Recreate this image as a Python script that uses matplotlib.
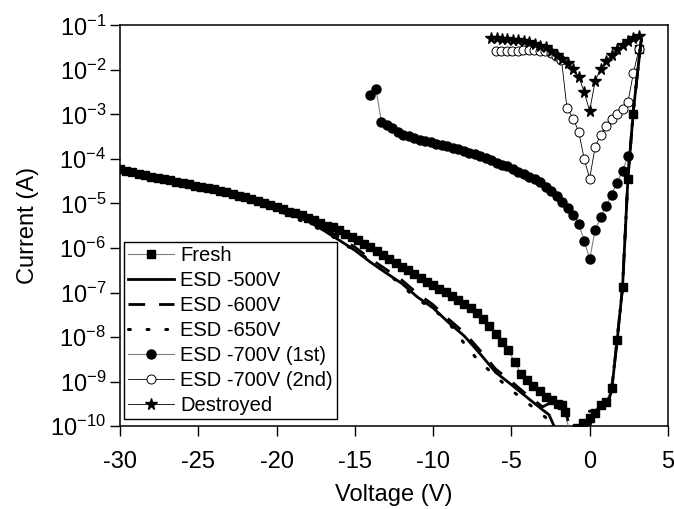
#!/usr/bin/env python3

import matplotlib
matplotlib.use("Agg")
import matplotlib.pyplot as plt
from matplotlib.ticker import LogLocator, LogFormatterSciNotation, NullLocator

plt.rcParams["font.family"] = ["Liberation Sans", "DejaVu Sans"]
plt.rcParams["axes.unicode_minus"] = False
plt.rcParams["mathtext.default"] = "regular"

# ---- data (voltage in V, current in A) ----
fresh_v = [-30.0, -29.6, -29.2, -28.8, -28.4, -28.0, -27.6, -27.2, -26.8, -26.4,
           -26.0, -25.6, -25.2, -24.8, -24.4, -24.0, -23.6, -23.2, -22.8, -22.4,
           -22.0, -21.6, -21.2, -20.8, -20.4, -20.0, -19.6, -19.2, -18.8, -18.4,
           -18.0, -17.6, -17.2, -16.8, -16.4, -16.0, -15.6, -15.2, -14.8, -14.4,
           -14.0, -13.6, -13.2, -12.8, -12.4, -12.0, -11.6, -11.2, -10.8, -10.4,
           -10.0, -9.6, -9.2, -8.8, -8.4, -8.0, -7.6, -7.2, -6.8, -6.4,
           -6.0, -5.6, -5.2, -4.8, -4.4, -4.0, -3.6, -3.2, -2.8, -2.4,
           -2.0, -1.75, -1.6, -1.2, -0.8, -0.4, 0.0, 0.35, 0.7, 1.05,
           1.4, 1.75, 2.1, 2.45, 2.8, 3.15]
fresh_i = [6.0e-5, 5.5e-5, 5.1e-5, 4.7e-5, 4.4e-5, 4.0e-5, 3.7e-5, 3.5e-5, 3.3e-5, 3.1e-5,
           2.9e-5, 2.7e-5, 2.5e-5, 2.4e-5, 2.2e-5, 2.1e-5, 1.9e-5, 1.8e-5, 1.6e-5, 1.5e-5,
           1.4e-5, 1.26e-5, 1.12e-5, 1.02e-5, 9.1e-6, 8.3e-6, 7.4e-6, 6.6e-6, 6.0e-6, 5.4e-6,
           4.8e-6, 4.2e-6, 3.7e-6, 3.2e-6, 2.9e-6, 2.5e-6, 2.1e-6, 1.8e-6, 1.5e-6, 1.26e-6,
           1.05e-6, 8.5e-7, 6.9e-7, 5.8e-7, 4.7e-7, 3.8e-7, 3.2e-7, 2.6e-7, 2.1e-7, 1.74e-7,
           1.45e-7, 1.2e-7, 1.02e-7, 8.5e-8, 6.9e-8, 5.6e-8, 4.4e-8, 3.4e-8, 2.5e-8, 1.8e-8,
           1.17e-8, 7.8e-9, 5.0e-9, 2.8e-9, 1.5e-9, 1.07e-9, 7.8e-10, 6.0e-10, 4.6e-10, 3.8e-10,
           3.2e-10, 2.9e-10, 2.1e-10, 6e-11, 9e-11, 1.2e-10, 1.5e-10, 2.0e-10, 2.9e-10, 3.5e-10,
           7e-10, 8.5e-9, 1.3e-7, 3.5e-5, 1.0e-3, 3.0e-2]

esd500_v = [-30, -28, -26, -24, -22, -20, -18, -17, -16, -15, -14, -13, -12, -11, -10,
            -9, -8, -7, -6, -5, -4, -3, -2.6, -2.3, -2.1, -1.5, -1.0, -0.6, -0.3, 0.0,
            0.3, 0.6, 0.9, 1.2, 1.4, 1.75, 2.1, 2.45, 2.8, 3.3]
esd500_i = [5.6e-5, 3.8e-5, 2.75e-5, 2.0e-5, 1.3e-5, 7.6e-6, 4.0e-6, 2.5e-6, 1.5e-6, 8.9e-7,
            4.8e-7, 2.75e-7, 1.6e-7, 7.9e-8, 4.5e-8, 2.1e-8, 1.05e-8, 4.2e-9, 1.6e-9, 8.5e-10,
            4.4e-10, 2.3e-10, 1.8e-10, 1.05e-10, 6e-11, 4e-11, 5e-11, 8e-11, 1.3e-10, 1.0e-10,
            1.8e-10, 2.5e-10, 3.0e-10, 3.8e-10, 6e-10, 8e-9, 1.3e-7, 4e-5, 1.3e-3, 5e-2]

esd600_v = [-30, -28, -26, -24, -22, -20, -18, -17, -16, -15, -14, -13, -12, -11, -10,
            -9, -8, -7, -6, -5, -4, -3, -2.6, -2.0, -1.6, -1.5, -1.2, -0.8, -0.4, 0.0,
            0.3, 0.6, 0.9, 1.2, 1.4, 1.75, 2.1, 2.45, 2.8, 3.3]
esd600_i = [5.7e-5, 3.9e-5, 2.8e-5, 2.05e-5, 1.35e-5, 7.9e-6, 4.4e-6, 2.9e-6, 1.75e-6, 1.05e-6,
            5.7e-7, 3.3e-7, 1.9e-7, 9.5e-8, 5.3e-8, 2.5e-8, 1.25e-8, 5e-9, 1.9e-9, 1.0e-9,
            5e-10, 2.7e-10, 3.2e-10, 3.1e-10, 3.0e-10, 2.0e-10, 7e-11, 6e-11, 1.1e-10, 1.4e-10,
            2.0e-10, 2.6e-10, 3.2e-10, 4e-10, 6.5e-10, 8.5e-9, 1.3e-7, 4e-5, 1.3e-3, 5e-2]

esd650_v = [-30, -28, -26, -24, -22, -20, -18.85, -17.8, -16.7, -15.6, -14.5, -13.4, -12.4,
            -11.3, -10.15, -9.2, -8.1, -7.2, -6.1, -5.16, -4.2, -3.25, -2.5, -2.0, -1.0,
            -0.27, 0.3, 0.8, 1.2, 1.4, 1.75, 2.1, 2.45, 2.8, 3.3]
esd650_i = [5.4e-5, 3.6e-5, 2.6e-5, 1.9e-5, 1.23e-5, 7.2e-6, 4.7e-6, 3.3e-6, 2.1e-6, 1.17e-6,
            6.9e-7, 3.5e-7, 1.9e-7, 8.7e-8, 4.4e-8, 2.6e-8, 7.9e-9, 3.2e-9, 1.4e-9, 7.1e-10,
            3.8e-10, 2.1e-10, 1.26e-10, 6e-11, 5e-11, 2.1e-10, 2.2e-10, 3e-10, 4e-10, 7e-10,
            8e-9, 1.3e-7, 4e-5, 1.3e-3, 5e-2]

first_v = [-14.0, -13.65, -13.3, -12.95, -12.6, -12.25, -11.9, -11.55, -11.2, -10.85,
           -10.5, -10.15, -9.8, -9.45, -9.1, -8.75, -8.4, -8.05, -7.7, -7.35,
           -7.0, -6.65, -6.3, -5.95, -5.6, -5.25, -4.9, -4.55, -4.2, -3.85,
           -3.5, -3.15, -2.8, -2.45, -2.1, -1.75, -1.4, -1.05, -0.7, -0.35,
           0.0, 0.35, 0.7, 1.05, 1.4, 1.75, 2.1, 2.45]
first_i = [2.75e-3, 3.7e-3, 6.9e-4, 5.9e-4, 4.9e-4, 4.0e-4, 3.5e-4, 3.2e-4, 2.9e-4, 2.7e-4,
           2.5e-4, 2.35e-4, 2.2e-4, 2.1e-4, 1.95e-4, 1.8e-4, 1.66e-4, 1.5e-4, 1.38e-4, 1.29e-4,
           1.17e-4, 1.05e-4, 9.3e-5, 8.3e-5, 7.4e-5, 6.8e-5, 6.0e-5, 5.2e-5, 4.6e-5, 4.0e-5,
           3.5e-5, 3.0e-5, 2.4e-5, 1.9e-5, 1.48e-5, 1.1e-5, 7.9e-6, 5.6e-6, 3.5e-6, 1.45e-6,
           5.6e-7, 2.5e-6, 5.0e-6, 8.7e-6, 1.58e-5, 2.95e-5, 5.4e-5, 1.17e-4]

second_v = [-6.0, -5.65, -5.3, -4.95, -4.6, -4.25, -3.9, -3.55, -3.2, -2.85,
            -2.5, -2.15, -1.8, -1.45, -1.05, -0.7, -0.35, 0.0, 0.35, 0.7,
            1.05, 1.4, 1.75, 2.1, 2.45, 2.8, 3.15]
second_i = [2.7e-2, 2.6e-2, 2.6e-2, 2.6e-2, 2.7e-2, 2.75e-2, 2.75e-2, 2.75e-2, 2.7e-2, 2.6e-2,
            2.4e-2, 2.1e-2, 1.7e-2, 1.4e-3, 8.1e-4, 4.1e-4, 1.02e-4, 3.6e-5, 1.86e-4, 3.5e-4,
            5.5e-4, 7.8e-4, 1.0e-3, 1.3e-3, 1.95e-3, 8.7e-3, 3.0e-2]

destroyed_v = [-6.3, -5.95, -5.6, -5.25, -4.9, -4.55, -4.2, -3.85, -3.5, -3.15,
               -2.8, -2.45, -2.1, -1.75, -1.4, -1.05, -0.7, -0.35, 0.0, 0.35,
               0.7, 1.05, 1.4, 1.75, 2.1, 2.45, 2.8, 3.15]
destroyed_i = [5.2e-2, 5.1e-2, 5.0e-2, 4.9e-2, 4.8e-2, 4.6e-2, 4.4e-2, 4.2e-2, 3.9e-2, 3.5e-2,
               3.2e-2, 2.7e-2, 2.2e-2, 1.8e-2, 1.4e-2, 1.07e-2, 7.1e-3, 3.2e-3, 1.2e-3, 5.6e-3,
               1.05e-2, 1.6e-2, 2.2e-2, 2.9e-2, 3.6e-2, 4.4e-2, 5.1e-2, 5.9e-2]

labels = ["Fresh", "ESD -500V", "ESD -600V", "ESD -650V",
          "ESD -700V (1st)", "ESD -700V (2nd)", "Destroyed"]

fig = plt.figure(figsize=(6.74, 5.09), dpi=100)
ax = fig.add_axes([0.178, 0.163, 0.813, 0.787])

ax.plot(fresh_v, fresh_i, color="#808080", lw=0.8, marker="s", ms=5.5,
        mfc="black", mec="black", label=labels[0], zorder=3)
ax.plot(esd500_v, esd500_i, color="black", lw=2.0, ls="-", label=labels[1], zorder=4)
ax.plot(esd600_v, esd600_i, color="black", lw=2.0, dashes=(6, 5), label=labels[2], zorder=4)
ax.plot(esd650_v, esd650_i, color="black", lw=2.2, dashes=(0.6, 5.5),
        dash_capstyle="round", label=labels[3], zorder=4)
ax.plot(first_v, first_i, color="#808080", lw=0.8, marker="o", ms=6.5,
        mfc="black", mec="black", label=labels[4], zorder=3)
ax.plot(second_v, second_i, color="black", lw=0.6, marker="o", ms=6.5,
        mfc="white", mec="black", mew=0.7, label=labels[5], zorder=3)
ax.plot(destroyed_v, destroyed_i, color="black", lw=0.6, marker="*", ms=8.5,
        mfc="black", mec="black", label=labels[6], zorder=3)

ax.set_yscale("log")
ax.set_xlim(-30, 5)
ax.set_ylim(1e-10, 1e-1)
ax.set_xticks([-30, -25, -20, -15, -10, -5, 0, 5])
ax.yaxis.set_major_locator(LogLocator(base=10, numticks=15))
ax.yaxis.set_major_formatter(LogFormatterSciNotation())
ax.yaxis.set_minor_locator(NullLocator())

ax.tick_params(axis="both", which="major", direction="out", length=7, width=1,
               labelsize=17, top=False, right=False)
ax.tick_params(axis="x", pad=11)
ax.tick_params(axis="y", pad=3)
for s in ax.spines.values():
    s.set_linewidth(1.1)

ax.set_xlabel("Voltage (V)", fontsize=17, labelpad=8)
ax.set_ylabel("Current (A)", fontsize=17, labelpad=8)

leg = ax.legend(loc="upper left", bbox_to_anchor=(0.007, 0.459), borderaxespad=0,
                fontsize=14.5, frameon=True, fancybox=False, framealpha=1,
                edgecolor="black", handlelength=2.3, handletextpad=0.3,
                labelspacing=0.3, borderpad=0.2)
leg.get_frame().set_linewidth(1.0)

fig.savefig("out.png", dpi=100)
